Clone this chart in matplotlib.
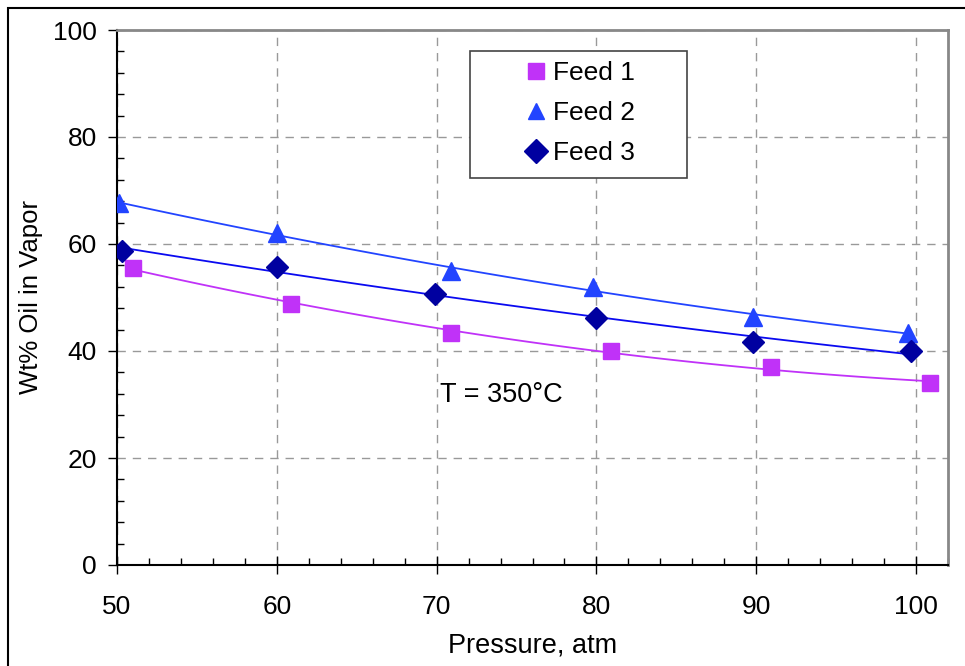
import matplotlib
matplotlib.use('Agg')
import matplotlib.pyplot as plt
from matplotlib.patches import Rectangle
from matplotlib.ticker import MultipleLocator
import numpy as np

plt.rcParams['font.family'] = ['Liberation Sans', 'DejaVu Sans']

# data
p_feed1 = [51.0, 60.9, 70.9, 80.9, 90.9, 100.9]
oil_feed1 = [55.5, 48.8, 43.4, 40.0, 37.0, 34.0]
p_feed2 = [50.1, 60.0, 70.9, 79.8, 89.8, 99.5]
oil_feed2 = [67.7, 62.0, 55.0, 52.0, 46.4, 43.4]
p_feed3 = [50.3, 60.0, 69.9, 80.0, 89.8, 99.7]
oil_feed3 = [58.7, 55.7, 50.7, 46.2, 41.7, 40.0]

COLORS = {
    'feed1': '#C032F8',
    'feed2': '#2244FF',
    'feed3': '#0000A0',
    'line3': '#0A0AF0',
    'grid':  '#999999',
}

W, H = 965, 666
L, R, T, B = 117, 948, 30, 565

fig = plt.figure(figsize=(W / 100, H / 100), dpi=100)
ax = fig.add_axes([L / W, 1 - B / H, (R - L) / W, (B - T) / H])

# outer frame (cut off at right/bottom like the reference)
fig.patches.append(Rectangle((8 / W, -0.1), 1.2, 1 - 8 / H + 0.1, transform=fig.transFigure,
                             fill=False, edgecolor='black', linewidth=1.5))


def trend(x, y):
    # 2nd order polynomial trendline over the data range
    c = np.polyfit(x, y, 2)
    xs = np.linspace(min(x), max(x), 100)
    return xs, np.polyval(c, xs)


series = [
    (p_feed1, oil_feed1, 's', COLORS['feed1'], COLORS['feed1'], 'Feed 1', 11.5),
    (p_feed2, oil_feed2, '^', COLORS['feed2'], COLORS['feed2'], 'Feed 2', 12.5),
    (p_feed3, oil_feed3, 'D', COLORS['feed3'], COLORS['line3'], 'Feed 3', 11),
]

for x, y, mk, mcol, lcol, name, ms in series:
    xs, ys = trend(x, y)
    ax.plot(xs, ys, color=lcol, linewidth=1.3, zorder=2)
    ax.plot(x, y, linestyle='none', marker=mk, markersize=ms, color=mcol,
            markeredgecolor=mcol, label=name, zorder=3)

ax.set_xlim(50, 102)
ax.set_ylim(0, 100)
ax.xaxis.set_major_locator(MultipleLocator(10))
ax.xaxis.set_minor_locator(MultipleLocator(2))
ax.yaxis.set_major_locator(MultipleLocator(20))
ax.yaxis.set_minor_locator(MultipleLocator(4))

ax.grid(True, which='major', color=COLORS['grid'], linestyle=(0, (6, 5)), linewidth=1)
ax.set_axisbelow(True)

ax.tick_params(axis='x', which='major', direction='inout', length=13, width=1, labelsize=19, pad=15)
ax.tick_params(axis='y', which='major', direction='out', length=6.5, width=1, labelsize=19, pad=8)
ax.tick_params(which='minor', direction='in', length=5, width=1)

for side in ['top', 'right']:
    ax.spines[side].set_color('#888888')
    ax.spines[side].set_linewidth(2)
for side in ['left', 'bottom']:
    ax.spines[side].set_color('black')
    ax.spines[side].set_linewidth(1.5)

ax.set_xlabel('Pressure, atm', fontsize=19.5)
ax.xaxis.set_label_coords(0.5, (B - 632) / (B - T))
ax.set_ylabel('Wt% Oil in Vapor', fontsize=18.5)
ax.yaxis.set_label_coords((43 - L) / (R - L), 0.5)

ax.text(70.2, 31.8, 'T = 350\u00b0C', fontsize=19.5, ha='left', va='center')

# legend: frame drawn separately, entries placed inside it
ax.add_patch(Rectangle(((470 - L) / (R - L), (B - 178) / (B - T)), 217 / (R - L), 127 / (B - T),
                       transform=ax.transAxes, facecolor='white', edgecolor='#444444',
                       linewidth=1.2, zorder=4))
leg = ax.legend(loc='center left', bbox_to_anchor=((523 - L) / (R - L), (B - 113) / (B - T)),
                fontsize=19, frameon=False, handletextpad=0.15, handlelength=1.0,
                borderpad=0, labelspacing=0.6, borderaxespad=0)
leg.set_zorder(5)
for h in leg.legend_handles:
    h.set_markersize(12)

plt.savefig('out.png', dpi=100, facecolor='white')
